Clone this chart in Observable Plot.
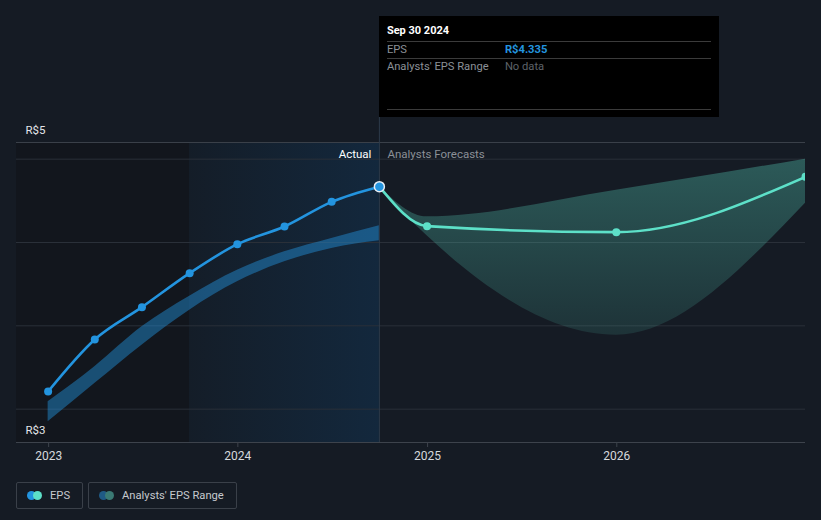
<!DOCTYPE html>
<html>
<head>
<meta charset="utf-8">
<script src="https://cdn.jsdelivr.net/npm/d3@7"></script>
<script src="https://cdn.jsdelivr.net/npm/@observablehq/plot@0.6"></script>
<style>
  html, body { margin: 0; padding: 0; background: #151b24; }
  body { font-family: Roboto, "Noto Sans", sans-serif; }
  #wrap { position: relative; width: 821px; height: 520px; overflow: hidden; background: #151b24; }
  #chart svg { display: block; }
  .tip { position: absolute; background: #000; box-sizing: border-box; font-size: 11.2px; }
  .tip .title { position: absolute; left: 8px; top: 8px; color: #fff; font-weight: bold; font-size: 11px; }
  .tip .sep { position: absolute; left: 8px; right: 8px; height: 1px; background: #3b3b3b; }
  .tip .lab { position: absolute; left: 8px; color: #8b9097; }
  .tip .val { position: absolute; left: 126px; }
  .legend { position: absolute; top: 482px; left: 16px; display: flex; gap: 5px; }
  .legend .item { height: 27px; box-sizing: border-box; border: 1px solid #3a4049; border-radius: 2px;
    display: flex; align-items: center; padding: 0 12px 0 10px; color: #c5c9ce; font-size: 11.2px; }
  .legend .sw { position: relative; width: 15px; height: 9px; margin-right: 8px; }
  .legend .sw span { position: absolute; top: 0; width: 9px; height: 9px; border-radius: 50%; }
</style>
</head>
<body>
<div id="wrap"><div id="chart"></div></div>
<script>
// ---- data ----
const epsDates   = ["2022-12-31","2023-03-31","2023-06-30","2023-09-30","2023-12-31","2024-03-31","2024-06-30","2024-09-30"];
const epsValues  = [3.106, 3.418, 3.612, 3.816, 3.990, 4.096, 4.244, 4.335];
const pastLow    = [2.924, 3.154, 3.384, 3.594, 3.764, 3.884, 3.964, 4.010];
const pastHigh   = [3.044, 3.255, 3.494, 3.678, 3.834, 3.944, 4.024, 4.100];

const fcDates    = ["2024-09-30","2024-12-31","2025-12-31","2026-12-31"];
const fcValues   = [4.335, 4.098, 4.062, 4.394];
const fcLow      = [4.335, 4.040, 3.444, 4.236];
const fcHigh     = [4.335, 4.154, 4.314, 4.500];

const xTickDates = ["2023-01-01","2024-01-01","2025-01-01","2026-01-01"];
const gridValues = [3.0, 3.5, 4.0, 4.5];
const yDomain    = [2.8, 4.6];
const xDomainStr = ["2022-10-31","2026-12-31"];
const pastStart  = "2023-09-30";
const lastActual = "2024-09-30";
const yLabels    = ["R$5", "R$3"];
const tipTitle   = "Sep 30 2024";
const tipRows    = [["EPS", "R$4.335"], ["Analysts' EPS Range", "No data"]];
const legendItems = [
  {label: "EPS", colors: ["#2394df", "#5de0c8"]},
  {label: "Analysts' EPS Range", colors: ["#1f5a85", "#3a7a74"]}
];

// ---- build ----
const parse = d3.utcParse("%Y-%m-%d");
const eps = epsDates.map((d, i) => ({date: parse(d), value: epsValues[i], low: pastLow[i], high: pastHigh[i]}));
const fc  = fcDates.map((d, i) => ({date: parse(d), value: fcValues[i], low: fcLow[i], high: fcHigh[i]}));
const xDomain = xDomainStr.map(parse);
const xTicks = xTickDates.map(parse);
const lastDate = parse(lastActual);

const blue = "#2394df", teal = "#5de0c8";

const plot = Plot.plot({
  width: 821, height: 470,
  marginTop: 142, marginBottom: 28, marginLeft: 16, marginRight: 16,
  style: {background: "transparent", color: "#d0d3d7", fontFamily: "Roboto, sans-serif", fontSize: "12px"},
  x: {type: "utc", domain: xDomain, axis: null},
  y: {domain: yDomain, axis: null},
  marks: [
    Plot.rect([{x1: xDomain[0], x2: parse(pastStart), y1: yDomain[0], y2: yDomain[1]}],
      {x1: "x1", x2: "x2", y1: "y1", y2: "y2", fill: "#12161d"}),
    Plot.rect([{x1: parse(pastStart), x2: lastDate, y1: yDomain[0], y2: yDomain[1]}],
      {x1: "x1", x2: "x2", y1: "y1", y2: "y2", fill: "url(#pastGrad)"}),
    Plot.ruleY(gridValues, {stroke: "#2a3039", strokeWidth: 1}),
    Plot.ruleY([yDomain[1]], {stroke: "#3a4049", strokeWidth: 1}),
    Plot.ruleY([yDomain[0]], {stroke: "#3d434c", strokeWidth: 1}),
    Plot.axisX({ticks: xTicks, tickSize: 5, text: null, stroke: "#3d434c"}),
    Plot.axisX({ticks: xTicks, tickSize: 0, tickPadding: 9, tickFormat: "%Y", fill: "#d6d9dd", fontSize: 12}),
    Plot.areaY(eps, {x: "date", y1: "low", y2: "high", fill: blue, fillOpacity: 0.45, curve: "monotone-x"}),
    Plot.areaY(fc, {x: "date", y1: "low", y2: "high", fill: "url(#fcGrad)", curve: "monotone-x", clip: true}),
    Plot.ruleX([lastDate], {stroke: "#2d3b4b", strokeWidth: 1, insetTop: -25}),
    Plot.line(eps, {x: "date", y: "value", stroke: blue, strokeWidth: 2.6, curve: "monotone-x"}),
    Plot.line(fc, {x: "date", y: "value", stroke: teal, strokeWidth: 2.6, curve: "monotone-x", clip: true}),
    Plot.dot(eps.slice(0, -1), {x: "date", y: "value", r: 4, fill: blue}),
    Plot.dot(fc.slice(1), {x: "date", y: "value", r: 4, fill: teal, clip: true}),
    Plot.dot(eps.slice(-1), {x: "date", y: "value", r: 5, fill: blue, stroke: "#e6eef5", strokeWidth: 1.5}),
    Plot.text([{date: lastDate, t: "Actual"}], {x: "date", text: "t", frameAnchor: "top", dy: 12, dx: -8, textAnchor: "end", lineAnchor: "middle", fill: "#ffffff", fontSize: 11.5}),
    Plot.text([{date: lastDate, t: "Analysts Forecasts"}], {x: "date", text: "t", frameAnchor: "top", dy: 12, dx: 8, textAnchor: "start", lineAnchor: "middle", fill: "#8b9097", fontSize: 11.5}),
    Plot.text([yLabels[0]], {text: d => d, frameAnchor: "top-left", dx: 9, dy: -12, textAnchor: "start", lineAnchor: "middle", fill: "#e4e6e9", fontSize: 11.5}),
    Plot.text([yLabels[1]], {text: d => d, frameAnchor: "bottom-left", dx: 9, dy: -12, textAnchor: "start", lineAnchor: "middle", fill: "#e4e6e9", fontSize: 11.5})
  ]
});

// gradients
const defs = d3.select(plot).insert("defs", ":first-child");
const grad = defs.append("linearGradient").attr("id", "pastGrad").attr("x1", 0).attr("x2", 1).attr("y1", 0).attr("y2", 0);
grad.append("stop").attr("offset", "0%").attr("stop-color", "#141d28");
grad.append("stop").attr("offset", "100%").attr("stop-color", "#13283d");
const fg = defs.append("linearGradient").attr("id", "fcGrad").attr("x1", 0).attr("x2", 0).attr("y1", 0).attr("y2", 1);
fg.append("stop").attr("offset", "0%").attr("stop-color", teal).attr("stop-opacity", 0.32);
fg.append("stop").attr("offset", "100%").attr("stop-color", teal).attr("stop-opacity", 0.12);

document.getElementById("chart").appendChild(plot);

// tooltip box anchored at the last actual date
const wrap = document.getElementById("wrap");
const xs = plot.scale("x");
const tipX = xs.apply(lastDate);
const tip = document.createElement("div");
tip.className = "tip";
tip.style.left = tipX + "px"; tip.style.top = "16px"; tip.style.width = "340px"; tip.style.height = "101px";
tip.innerHTML =
  `<div class="title">${tipTitle}</div>` +
  `<div class="sep" style="top:25px"></div>` +
  `<div class="lab" style="top:27px">${tipRows[0][0]}</div><div class="val" style="top:27px;color:${blue};font-weight:bold">${tipRows[0][1]}</div>` +
  `<div class="sep" style="top:42px"></div>` +
  `<div class="lab" style="top:44px">${tipRows[1][0]}</div><div class="val" style="top:44px;color:#5d6268">${tipRows[1][1]}</div>` +
  `<div class="sep" style="top:93px"></div>`;
wrap.appendChild(tip);

// legend
const leg = document.createElement("div");
leg.className = "legend";
leg.innerHTML = legendItems.map(it =>
  `<div class="item"><div class="sw"><span style="left:0;background:${it.colors[0]}"></span><span style="left:6px;background:${it.colors[1]}"></span></div>${it.label}</div>`
).join("");
wrap.appendChild(leg);
</script>
</body>
</html>
